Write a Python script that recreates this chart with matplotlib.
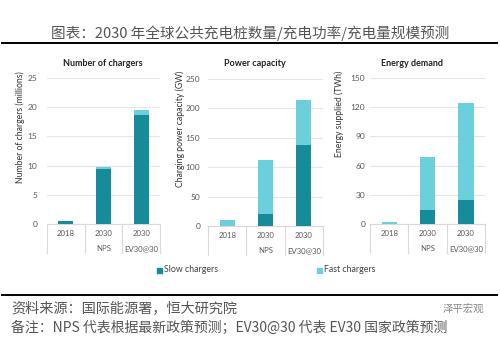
import matplotlib.pyplot as plt
from matplotlib.lines import Line2D
from matplotlib.patches import Rectangle
import matplotlib.transforms as mtransforms

plt.rcParams['font.family'] = ['Lato', 'Noto Sans CJK SC', 'DejaVu Sans']

categories = ["2018", "2030\nNPS", "2030\nEV30@30"]

# number of chargers (millions)
chargers_slow = [0.45, 9.4, 18.6]
chargers_fast = [0.05, 0.4, 0.9]
# power capacity (GW)
power_slow = [0.5, 20, 137]
power_fast = [9, 93, 78]
# energy supplied (TWh)
energy_slow = [0.3, 14, 25]
energy_fast = [2.2, 55, 99]

panels = [
    ("Number of chargers", "Number of chargers (millions)", chargers_slow, chargers_fast,
     [0, 5, 10, 15, 20, 25]),
    ("Power capacity", "Charging power capacity (GW)", power_slow, power_fast,
     [0, 50, 100, 150, 200, 250]),
    ("Energy demand", "Energy supplied (TWh)", energy_slow, energy_fast,
     [0, 30, 60, 90, 120, 150]),
]

SLOW = '#168b9a'
FAST = '#6ccfdc'
GREY = '#595959'
CJK = ['Noto Sans CJK SC', 'DejaVu Sans']

W, H = 500, 362
fig = plt.figure(figsize=(W / 100, H / 100), dpi=100)

def px(x0, y0, x1, y1):
    # pixel box (top-left origin) -> figure fraction
    return [x0 / W, 1 - y1 / H, (x1 - x0) / W, (y1 - y0) / H]

boxes = [px(47, 78, 160, 224), px(208, 79, 323, 226), px(370, 78, 485, 224)]
title_x = [103, 255, 412]
ylab_x = [20, 180, 339]
ypads = [7, 5.5, 3.5]

for (title, ylab, slow, fast, ticks), box, tx, yx, pad in zip(panels, boxes, title_x, ylab_x, ypads):
    ax = fig.add_axes(box)
    xs = range(len(categories))
    ax.bar(xs, slow, width=0.4, color=SLOW, zorder=3)
    ax.bar(xs, fast, width=0.4, bottom=slow, color=FAST, zorder=3)
    ax.set_xlim(-0.5, 2.5)
    ax.set_ylim(ticks[0], ticks[-1])
    ax.set_yticks(ticks)
    ax.yaxis.grid(True, color='#e6e6e6', linewidth=0.8, zorder=0)
    for s in ['top', 'right', 'left']:
        ax.spines[s].set_visible(False)
    ax.spines['bottom'].set_color('#d9d9d9')
    ax.spines['bottom'].set_linewidth(0.8)
    ax.tick_params(axis='y', length=0, labelsize=6, labelcolor=GREY, pad=pad)
    ax.set_xticks(list(xs))
    ax.set_xticklabels(categories, fontsize=5.6, color=GREY, linespacing=2.4)
    ax.tick_params(axis='x', length=0, pad=4)
    # category table separators
    trans = mtransforms.blended_transform_factory(ax.transData, ax.transAxes)
    for xb in [-0.5, 0.5, 1.5, 2.5]:
        ax.add_line(Line2D([xb, xb], [0, -0.2], transform=trans, color='#d9d9d9',
                           linewidth=0.8, clip_on=False))
    fig.text(tx / W, 1 - 63 / H, title, ha='center', va='center', fontsize=6.5,
             fontweight='bold', color='#222222')
    fig.text(yx / W, 1 - 71 / H, ylab, ha='center', va='top', rotation=90,
             fontsize=6.2, color='#333333')

# legend
for lx, lab, col in [(157, "Slow chargers", SLOW), (317, "Fast chargers", FAST)]:
    fig.patches.append(Rectangle((lx / W, 1 - 273 / H), 5 / W, 5 / H, color=col,
                                 transform=fig.transFigure))
    fig.text((lx + 7) / W, 1 - 270 / H, lab, ha='left', va='center', fontsize=6.3,
             color='#404040')

# header and footer
fig.text(250 / W, 1 - 33 / H, "图表：2030 年全球公共充电桩数量/充电功率/充电量规模预测",
         ha='center', va='center', fontsize=10.5, color='#555555', family=CJK)
fig.add_artist(Line2D([2 / W, 497 / W], [1 - 43 / H, 1 - 43 / H], color='black', linewidth=1.4))
fig.add_artist(Line2D([2 / W, 497 / W], [1 - 295 / H, 1 - 295 / H], color='black', linewidth=1.4))
fig.text(11 / W, 1 - 308 / H, "资料来源：国际能源署，恒大研究院", ha='left', va='center',
         fontsize=10.2, color='#555555', style='italic', family=CJK)
fig.text(11 / W, 1 - 328 / H, "备注：NPS 代表根据最新政策预测；EV30@30 代表 EV30 国家政策预测",
         ha='left', va='center', fontsize=10, color='#555555', style='italic', family=CJK)
fig.text(484 / W, 1 - 309 / H, "泽平宏观", ha='right', va='center', fontsize=7.5,
         color='#888888', family=CJK)

fig.savefig('out.png', dpi=100)
